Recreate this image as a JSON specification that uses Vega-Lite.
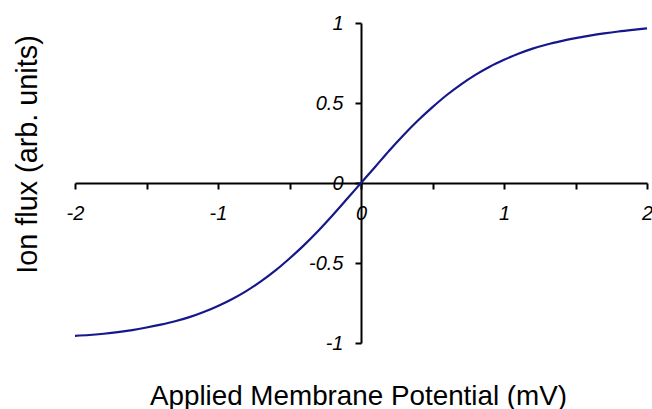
{
  "$schema": "https://vega.github.io/schema/vega-lite/v6.json",
  "autosize": "none",
  "width": 572,
  "height": 320,
  "padding": {"left": 75, "top": 23, "right": 5, "bottom": 66},
  "background": "white",
  "config": {
    "view": {"stroke": null},
    "axis": {"grid": false}
  },
  "data": {
    "values": [
      {"v": -2.0, "flux": -0.955},
      {"v": -1.9, "flux": -0.950},
      {"v": -1.8, "flux": -0.942},
      {"v": -1.7, "flux": -0.932},
      {"v": -1.6, "flux": -0.919},
      {"v": -1.5, "flux": -0.903},
      {"v": -1.4, "flux": -0.885},
      {"v": -1.3, "flux": -0.864},
      {"v": -1.2, "flux": -0.838},
      {"v": -1.1, "flux": -0.806},
      {"v": -1.0, "flux": -0.768},
      {"v": -0.9, "flux": -0.725},
      {"v": -0.8, "flux": -0.674},
      {"v": -0.7, "flux": -0.615},
      {"v": -0.6, "flux": -0.548},
      {"v": -0.5, "flux": -0.472},
      {"v": -0.4, "flux": -0.390},
      {"v": -0.3, "flux": -0.300},
      {"v": -0.2, "flux": -0.203},
      {"v": -0.1, "flux": -0.102},
      {"v": 0.0, "flux": 0.0},
      {"v": 0.1, "flux": 0.102},
      {"v": 0.2, "flux": 0.205},
      {"v": 0.3, "flux": 0.302},
      {"v": 0.4, "flux": 0.392},
      {"v": 0.5, "flux": 0.474},
      {"v": 0.6, "flux": 0.550},
      {"v": 0.7, "flux": 0.617},
      {"v": 0.8, "flux": 0.676},
      {"v": 0.9, "flux": 0.727},
      {"v": 1.0, "flux": 0.770},
      {"v": 1.1, "flux": 0.808},
      {"v": 1.2, "flux": 0.840},
      {"v": 1.3, "flux": 0.866},
      {"v": 1.4, "flux": 0.887},
      {"v": 1.5, "flux": 0.905},
      {"v": 1.6, "flux": 0.921},
      {"v": 1.7, "flux": 0.935},
      {"v": 1.8, "flux": 0.947},
      {"v": 1.9, "flux": 0.957},
      {"v": 2.0, "flux": 0.966}
    ]
  },
  "mark": {"type": "line", "color": "#17178c", "strokeWidth": 2.2, "interpolate": "monotone"},
  "encoding": {
    "x": {
      "field": "v",
      "type": "quantitative",
      "scale": {"domain": [-2, 2], "nice": false, "zero": false},
      "axis": {
        "orient": "bottom",
        "offset": -160,
        "values": [-2, -1.5, -1, -0.5, 0, 0.5, 1, 1.5, 2],
        "labelExpr": "datum.value % 1 === 0 ? '' + datum.value : ''",
        "domainColor": "black",
        "domainWidth": 2,
        "tickColor": "black",
        "tickWidth": 2,
        "tickSize": 6,
        "labelFont": "Liberation Sans",
        "labelFontStyle": "italic",
        "labelFontSize": 20,
        "labelColor": "black",
        "labelPadding": 14,
        "labelFlush": false,
        "labelOverlap": false,
        "title": "Applied Membrane Potential (mV)",
        "titleFont": "Liberation Sans",
        "titleFontSize": 27.8,
        "titleFontWeight": "normal",
        "titleColor": "black",
        "titleX": 283,
        "titleY": 221,
        "titleAlign": "center",
        "titleBaseline": "alphabetic"
      }
    },
    "y": {
      "field": "flux",
      "type": "quantitative",
      "scale": {"domain": [-1, 1], "nice": false, "zero": false},
      "axis": {
        "orient": "left",
        "offset": -286,
        "values": [-1, -0.5, 0, 0.5, 1],
        "labelExpr": "'' + datum.value",
        "domainColor": "black",
        "domainWidth": 2,
        "tickColor": "black",
        "tickWidth": 2,
        "tickSize": 6,
        "labelFont": "Liberation Sans",
        "labelFontStyle": "italic",
        "labelFontSize": 20,
        "labelColor": "black",
        "labelPadding": 12,
        "labelFlush": false,
        "labelOverlap": false,
        "title": "Ion flux (arb. units)",
        "titleFont": "Liberation Sans",
        "titleFontSize": 28.8,
        "titleFontWeight": "normal",
        "titleColor": "black",
        "titleAngle": -90,
        "titleX": -334,
        "titleY": 131,
        "titleAlign": "center",
        "titleBaseline": "middle"
      }
    }
  }
}
